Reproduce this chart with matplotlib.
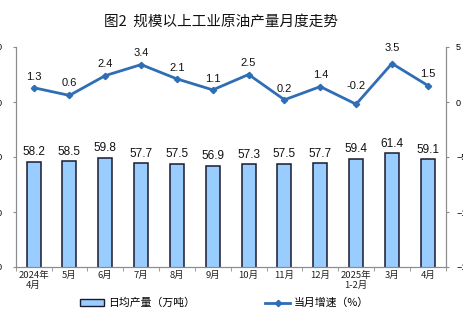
import matplotlib
matplotlib.use("Agg")
import matplotlib.pyplot as plt
from matplotlib.patches import Patch
from matplotlib.lines import Line2D
from matplotlib.ticker import FixedLocator

plt.rcParams['font.family'] = ['Liberation Sans', 'Noto Sans CJK SC', 'DejaVu Sans']

categories = ['2024年\n4月', '5月', '6月', '7月', '8月', '9月', '10月', '11月',
              '12月', '2025年\n1-2月', '3月', '4月']
daily_output = [58.2, 58.5, 59.8, 57.7, 57.5, 56.9, 57.3, 57.5, 57.7, 59.4, 61.4, 59.1]
growth = [1.3, 0.6, 2.4, 3.4, 2.1, 1.1, 2.5, 0.2, 1.4, -0.2, 3.5, 1.5]
left_ticks = [20, 40, 60, 80, 100]
right_ticks = [-15, -10, -5, 0, 5]

bar_color = '#99CCFF'
line_color = '#2F6DB5'
spine_color = '#8C8C8C'

fig = plt.figure(figsize=(4.63, 3.26), dpi=100)
ax = fig.add_axes([15.7 / 463, 59 / 326, 430 / 463, 220 / 326])
ax2 = ax.twinx()

x = list(range(len(categories)))
ax.bar(x, daily_output, width=0.39, color=bar_color, edgecolor='#1A1A2E',
       linewidth=1.1, zorder=2)
ax.set_ylim(20, 100)
ax.set_xlim(-0.5, len(categories) - 0.5)
ax.yaxis.set_major_locator(FixedLocator(left_ticks))
for xi, v in zip(x, daily_output):
    ax.annotate(f'{v:.1f}', (xi, v), xytext=(0, 2.5), textcoords='offset points',
                ha='center', va='bottom', fontsize=8.5, color='#111111')

ax2.plot(x, growth, color=line_color, lw=2.0, marker='D', markersize=3.2,
         markerfacecolor=line_color, markeredgecolor=line_color, zorder=3)
ax2.set_ylim(-15, 5)
ax2.yaxis.set_major_locator(FixedLocator(right_ticks))
label_offsets = [8, 9, 8, 8, 8, 8, 8, 8, 8, 13, 11, 8]
for xi, v, off in zip(x, growth, label_offsets):
    ax2.annotate(f'{v:.1f}', (xi, v), xytext=(0, off), textcoords='offset points',
                 ha='center', va='center', fontsize=8, color='#111111')

ax.set_xticks(x)
ax.set_xticklabels(categories, fontsize=6.8, family=['Noto Sans CJK SC'],
                   linespacing=1.1, color='#222222')
ax.set_xticks([i + 0.5 for i in range(-1, len(categories))], minor=True)
ax.tick_params(axis='x', which='major', length=0, pad=3)
ax.tick_params(axis='x', which='minor', length=3, color=spine_color, direction='out')
ax.tick_params(axis='y', length=2.5, color=spine_color, labelsize=6.5, pad=7)
ax2.tick_params(axis='y', length=2.5, color=spine_color, labelsize=6.5, pad=5)

for a in (ax, ax2):
    a.spines['top'].set_visible(False)
    for s in ('left', 'right', 'bottom'):
        a.spines[s].set_color(spine_color)
        a.spines[s].set_linewidth(0.8)

fig.text(220.5 / 463, 1 - 22 / 326, '图2  规模以上工业原油产量月度走势',
         ha='center', va='center', fontsize=10.5,
         family=['Noto Sans CJK SC', 'DejaVu Sans'], color='#111111')

handles = [
    Patch(facecolor=bar_color, edgecolor='#1A1A2E', linewidth=1.0),
    Line2D([0], [0], color=line_color, lw=2.0, marker='D', markersize=3.2),
]
fig.legend(handles, ['日均产量（万吨）', '当月增速（%）'],
           loc='center', bbox_to_anchor=(224 / 463, 1 - 303 / 326), ncol=2,
           frameon=False, handlelength=2.3, handleheight=0.6,
           handletextpad=0.3, columnspacing=6.5,
           prop={'family': ['Noto Sans CJK SC'], 'size': 7.8})

fig.savefig('out.png', dpi=100)
